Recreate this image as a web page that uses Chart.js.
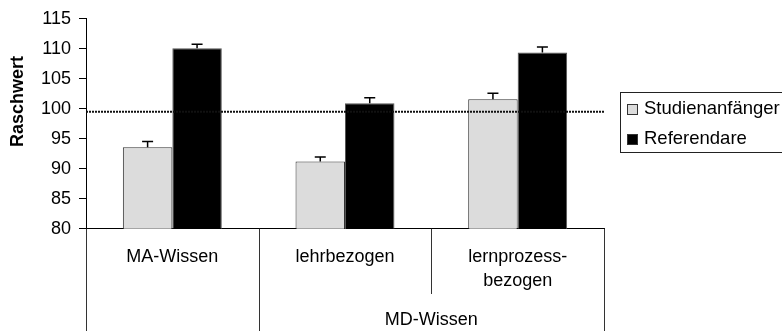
<!DOCTYPE html>
<html>
<head>
<meta charset="utf-8">
<script src="https://cdn.jsdelivr.net/npm/chart.js@4"></script>
<style>
  html, body { margin: 0; padding: 0; background: #fff; }
  #wrap { width: 782px; height: 331px; position: relative; }
</style>
</head>
<body>
<div id="wrap"><canvas id="chart"></canvas></div>
<script>
const categories = ['MA-Wissen', 'lehrbezogen', ['lernprozess-', 'bezogen']];
const groupLabel = 'MD-Wissen';
const seriesNames = ['Studienanfänger', 'Referendare'];
const studienanfaenger = [93.6, 91.2, 101.6];
const referendare = [110.1, 100.9, 109.4];
const errStudienanfaenger = [0.95, 0.75, 1.0];
const errReferendare = [0.65, 0.95, 0.9];
const referenceValue = 99.5;
const yMin = 80, yMax = 115, yStep = 5;

const FONT = "'Liberation Sans', Arial, sans-serif";
Chart.defaults.font.family = FONT;
Chart.defaults.font.size = 18;
Chart.defaults.color = '#000';

const errors = [errStudienanfaenger, errReferendare];

// horizontal reference line across the plot
const refLinePlugin = {
  id: 'refLine',
  afterDatasetsDraw(chart) {
    const { ctx, chartArea, scales } = chart;
    const y = scales.y.getPixelForValue(referenceValue);
    ctx.save();
    ctx.strokeStyle = '#111';
    ctx.lineWidth = 2;
    ctx.setLineDash([2, 1]);
    ctx.beginPath();
    ctx.moveTo(chartArea.left, y);
    ctx.lineTo(chartArea.right + 1, y);
    ctx.stroke();
    ctx.restore();
  }
};

// plus-only error bars
const errorBarPlugin = {
  id: 'errorBars',
  afterDatasetsDraw(chart) {
    const { ctx, scales } = chart;
    ctx.save();
    ctx.strokeStyle = '#000';
    ctx.lineWidth = 1.5;
    chart.data.datasets.forEach((ds, di) => {
      const meta = chart.getDatasetMeta(di);
      meta.data.forEach((bar, i) => {
        const top = scales.y.getPixelForValue(ds.data[i] + errors[di][i]);
        ctx.beginPath();
        ctx.moveTo(bar.x, bar.y);
        ctx.lineTo(bar.x, top);
        ctx.moveTo(bar.x - 5.5, top);
        ctx.lineTo(bar.x + 5.5, top);
        ctx.stroke();
      });
    });
    ctx.restore();
  }
};

// category dividers, group label, y title, legend box
const decorPlugin = {
  id: 'decor',
  afterDraw(chart) {
    const { ctx, chartArea, scales } = chart;
    const H = chart.height;
    const step = chartArea.width / categories.length;
    const bx = i => scales.x.getPixelForValue(i) - step / 2;
    ctx.save();
    ctx.strokeStyle = '#333';
    ctx.lineWidth = 1;
    const lines = [[bx(0), H], [bx(1), H], [bx(2), 294], [bx(2) + step, H]];
    lines.forEach(([x, yEnd]) => {
      const px = Math.round(x) + 0.5;
      ctx.beginPath();
      ctx.moveTo(px, chartArea.bottom);
      ctx.lineTo(px, yEnd);
      ctx.stroke();
    });

    ctx.fillStyle = '#000';
    ctx.font = `18px ${FONT}`;
    ctx.textAlign = 'center';
    ctx.textBaseline = 'middle';
    ctx.fillText(groupLabel, (bx(1) + bx(2) + step) / 2, 320.5);

    ctx.save();
    ctx.translate(18, 101.5);
    ctx.rotate(-Math.PI / 2);
    ctx.font = `bold 18px ${FONT}`;
    ctx.fillText('Raschwert', 0, 0);
    ctx.restore();

    // legend
    ctx.strokeStyle = '#222';
    ctx.strokeRect(620.5, 92.5, 200, 60);
    ctx.textAlign = 'left';
    ctx.textBaseline = 'alphabetic';
    ctx.font = `18.5px ${FONT}`;
    const rows = [104.5, 134.5];
    chart.data.datasets.forEach((ds, di) => {
      ctx.fillStyle = ds.backgroundColor;
      ctx.fillRect(627.5, rows[di], 10, 10);
      ctx.strokeStyle = '#333';
      ctx.strokeRect(627.5, rows[di], 10, 10);
      ctx.fillStyle = '#000';
      ctx.fillText(seriesNames[di], 644, rows[di] + 9);
    });
    ctx.restore();
  }
};

new Chart(document.getElementById('chart'), {
  type: 'bar',
  data: {
    labels: categories,
    datasets: [
      {
        label: seriesNames[0],
        data: studienanfaenger,
        backgroundColor: '#dcdcdc',
        borderColor: '#333',
        borderWidth: 1
      },
      {
        label: seriesNames[1],
        data: referendare,
        backgroundColor: '#000',
        borderColor: '#555',
        borderWidth: 1
      }
    ]
  },
  options: {
    responsive: true,
    maintainAspectRatio: false,
    animation: false,
    categoryPercentage: 0.573,
    barPercentage: 1.0,
    layout: { padding: { top: 16, right: 178, bottom: 0, left: 0 } },
    plugins: {
      legend: { display: false },
      tooltip: { enabled: false }
    },
    scales: {
      x: {
        grid: { display: false },
        border: { display: true, color: '#000', width: 1 },
        ticks: {
          padding: 8,
          maxRotation: 0,
          autoSkip: false,
          font: { size: 18, lineHeight: 1.36 }
        },
        afterFit: (scale) => { scale.height = 102.3; }
      },
      y: {
        min: yMin,
        max: yMax,
        grid: { drawOnChartArea: false, drawTicks: true, tickLength: 7, color: '#000' },
        border: { display: true, color: '#000', width: 1 },
        ticks: { stepSize: yStep, padding: 8, font: { size: 18 } },
        afterFit: (scale) => { scale.width = 86; }
      }
    }
  },
  plugins: [refLinePlugin, errorBarPlugin, decorPlugin]
});
</script>
</body>
</html>
